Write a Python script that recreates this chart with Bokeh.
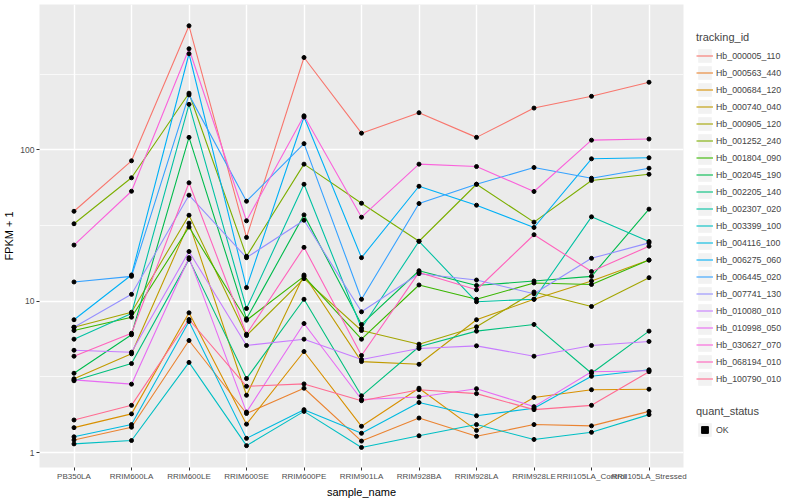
import numpy as np
from bokeh.plotting import figure
from bokeh.models import (FactorRange, FixedTicker, Legend, LegendItem, Range1d,
                          ColumnDataSource, BasicTickFormatter)
from bokeh.layouts import row
from bokeh.embed import file_html
from bokeh.resources import INLINE

samples = ["PB350LA", "RRIM600LA", "RRIM600LE", "RRIM600SE", "RRIM600PE", "RRIM901LA",
           "RRIM928BA", "RRIM928LA", "RRIM928LE", "RRII105LA_Control", "RRII105LA_Stressed"]

tracking_ids = ["Hb_000005_110", "Hb_000563_440", "Hb_000684_120", "Hb_000740_040",
                "Hb_000905_120", "Hb_001252_240", "Hb_001804_090", "Hb_002045_190",
                "Hb_002205_140", "Hb_002307_020", "Hb_003399_100", "Hb_004116_100",
                "Hb_006275_060", "Hb_006445_020", "Hb_007741_130", "Hb_010080_010",
                "Hb_010998_050", "Hb_030627_070", "Hb_068194_010", "Hb_100790_010"]

colors = ["#F8766D", "#EA8331", "#D89000", "#C09B00", "#A3A500", "#7CAE00", "#39B600",
          "#00BB4E", "#00BF7D", "#00C1A3", "#00BFC4", "#00BAE0", "#00B0F6", "#35A2FF",
          "#9590FF", "#C77CFF", "#E76BF3", "#FA62DB", "#FF62BC", "#FF6C91"]

# FPKM + 1 per sample (order of `samples`)
Hb_000005_110 = [39.3, 84.7, 661, 26.4, 408, 129, 176, 121, 189, 226, 280]
Hb_000563_440 = [1.21, 1.47, 5.50, 1.81, 2.66, 1.19, 1.69, 1.28, 1.53, 1.50, 1.87]
Hb_000684_120 = [1.46, 1.80, 8.38, 1.54, 4.65, 1.49, 2.66, 1.40, 2.31, 2.60, 2.62]
Hb_000740_040 = [3.07, 4.49, 32.8, 2.39, 14.9, 3.99, 3.83, 7.54, 10.3, 13.6, 18.7]
Hb_000905_120 = [6.73, 8.46, 37.0, 5.93, 14.1, 6.40, 5.20, 6.77, 11.5, 9.23, 14.3]
Hb_001252_240 = [32.5, 65.4, 237, 19.8, 80.5, 44.4, 24.9, 59.3, 33.3, 62.8, 69.0]
Hb_001804_090 = [6.40, 7.84, 30.9, 7.49, 14.6, 5.61, 12.8, 10.3, 13.2, 12.9, 18.7]
Hb_002045_190 = [3.34, 6.00, 121, 7.65, 37.2, 7.02, 15.9, 12.7, 13.6, 14.6, 40.6]
Hb_002205_140 = [2.98, 3.87, 18.9, 3.08, 10.3, 2.37, 5.00, 6.34, 7.02, 3.34, 6.34]
Hb_002307_020 = [5.61, 8.29, 200, 8.95, 59.3, 6.63, 24.9, 9.91, 10.3, 36.1, 24.8]
Hb_003399_100 = [1.14, 1.20, 3.94, 1.11, 1.87, 1.08, 1.29, 1.53, 1.22, 1.36, 1.78]
Hb_004116_100 = [1.27, 1.53, 7.34, 1.24, 1.92, 1.34, 2.14, 1.75, 1.96, 3.19, 3.52]
Hb_006275_060 = [7.54, 14.9, 432, 12.3, 165, 19.4, 57.5, 43.1, 30.7, 87.3, 88.7]
Hb_006445_020 = [13.4, 14.6, 231, 45.8, 110, 10.3, 44.2, 59.3, 76.5, 65.0, 75.7]
Hb_007741_130 = [6.73, 11.1, 50.2, 19.4, 34.3, 8.51, 15.2, 13.8, 11.2, 19.2, 24.3]
Hb_010080_010 = [4.74, 4.60, 21.3, 5.10, 5.61, 4.12, 4.87, 5.07, 4.33, 5.10, 5.42]
Hb_010998_050 = [3.02, 2.83, 19.4, 1.85, 7.12, 2.24, 2.33, 2.64, 2.01, 3.42, 3.47]
Hb_030627_070 = [23.5, 53.3, 466, 34.0, 168, 35.9, 80.5, 77.6, 53.1, 116, 118]
Hb_068194_010 = [4.33, 6.14, 60.6, 6.05, 22.7, 4.38, 15.5, 11.9, 27.5, 15.7, 23.1]
Hb_100790_010 = [1.64, 2.05, 7.57, 2.74, 2.84, 2.20, 2.60, 2.45, 1.92, 2.05, 3.42]

series = [Hb_000005_110, Hb_000563_440, Hb_000684_120, Hb_000740_040, Hb_000905_120,
          Hb_001252_240, Hb_001804_090, Hb_002045_190, Hb_002205_140, Hb_002307_020,
          Hb_003399_100, Hb_004116_100, Hb_006275_060, Hb_006445_020, Hb_007741_130,
          Hb_010080_010, Hb_010998_050, Hb_030627_070, Hb_068194_010, Hb_100790_010]

y_ticks = [1, 10, 100]
y_minor = [10 ** -0.5, 10 ** 0.5, 10 ** 1.5, 10 ** 2.5]

FONT = "Liberation Sans"
FW, FH = 644, 463
TOP, BOTTOM = 4, 24

p = figure(frame_width=FW, frame_height=FH,
           x_range=FactorRange(factors=samples, range_padding=0.1, range_padding_units="absolute"),
           y_axis_type="log", y_range=Range1d(0.796, 914),
           output_backend="svg", toolbar_location=None,
           min_border_left=32, min_border_right=4, min_border_top=TOP, min_border_bottom=BOTTOM)
p.background_fill_color = "#EBEBEB"
p.border_fill_color = "white"
p.outline_line_color = None

for tid, col, vals in zip(tracking_ids, colors, series):
    src = ColumnDataSource(dict(x=samples, y=vals))
    p.line("x", "y", source=src, line_color=col, line_width=1.1)
for tid, vals in zip(tracking_ids, series):
    src = ColumnDataSource(dict(x=samples, y=vals))
    p.scatter("x", "y", source=src, marker="circle", size=4, fill_color="black", line_color="black")

p.yaxis.ticker = FixedTicker(ticks=y_ticks, minor_ticks=y_minor)
p.yaxis.formatter = BasicTickFormatter()
p.ygrid.grid_line_color = "white"
p.ygrid.grid_line_width = 1.4
p.ygrid.minor_grid_line_color = "white"
p.ygrid.minor_grid_line_width = 0.7
p.xgrid.grid_line_color = "white"
p.xgrid.grid_line_width = 1.4

for ax in (p.xaxis[0], p.yaxis[0]):
    ax.axis_line_color = None
    ax.major_tick_line_color = "#333333"
    ax.major_tick_out = 3
    ax.major_tick_in = 0
    ax.minor_tick_line_color = None
    ax.major_label_text_color = "#4D4D4D"
    ax.major_label_text_font = FONT
    ax.major_label_text_font_size = "8px"
    ax.major_label_standoff = 1
    ax.axis_label_text_font = FONT
    ax.axis_label_text_font_size = "11px"
    ax.axis_label_text_font_style = "normal"
    ax.axis_label_text_color = "black"
    ax.axis_label_standoff = 2
p.yaxis.major_label_text_font_size = "8.5px"
p.xaxis.axis_label = "sample_name"
p.yaxis.axis_label = "FPKM + 1"

# legend panel (same top/bottom borders as the plot so the frames line up)
p2 = figure(frame_width=104, frame_height=FH, x_axis_type=None, y_axis_type=None,
            x_range=Range1d(0, 1), y_range=Range1d(0, 1),
            output_backend="svg", toolbar_location=None,
            min_border_left=0, min_border_right=0, min_border_top=TOP, min_border_bottom=BOTTOM)
p2.outline_line_color = None
p2.grid.visible = False
p2.background_fill_color = "white"
p2.border_fill_color = "white"

key_box = p2.quad(left=[np.nan], right=[np.nan], top=[np.nan], bottom=[np.nan],
                  fill_color="#F2F2F2", line_color=None)
items = []
for tid, col in zip(tracking_ids, colors):
    ln = p2.line([np.nan], [np.nan], line_color=col, line_width=1.1)
    items.append(LegendItem(label=tid, renderers=[key_box, ln]))

leg_common = dict(glyph_width=17, glyph_height=17, label_height=17, spacing=0, padding=0,
                  margin=0, border_line_color=None, background_fill_alpha=0,
                  label_text_font=FONT, label_text_font_size="8.8px", label_standoff=3,
                  title_text_font=FONT, title_text_font_size="11px",
                  title_text_font_style="normal", title_standoff=4)
leg1 = Legend(items=items, title="tracking_id", location=(9, 80), **leg_common)
p2.add_layout(leg1)

ok_pt = p2.scatter([np.nan], [np.nan], marker="square", size=4, fill_color="black", line_color="black")
leg2 = Legend(items=[LegendItem(label="OK", renderers=[key_box, ok_pt])], title="quant_status",
              location=(9, 29), **leg_common)
p2.add_layout(leg2)

layout = row(p, p2)
open("out.html", "w").write(file_html(layout, INLINE))
